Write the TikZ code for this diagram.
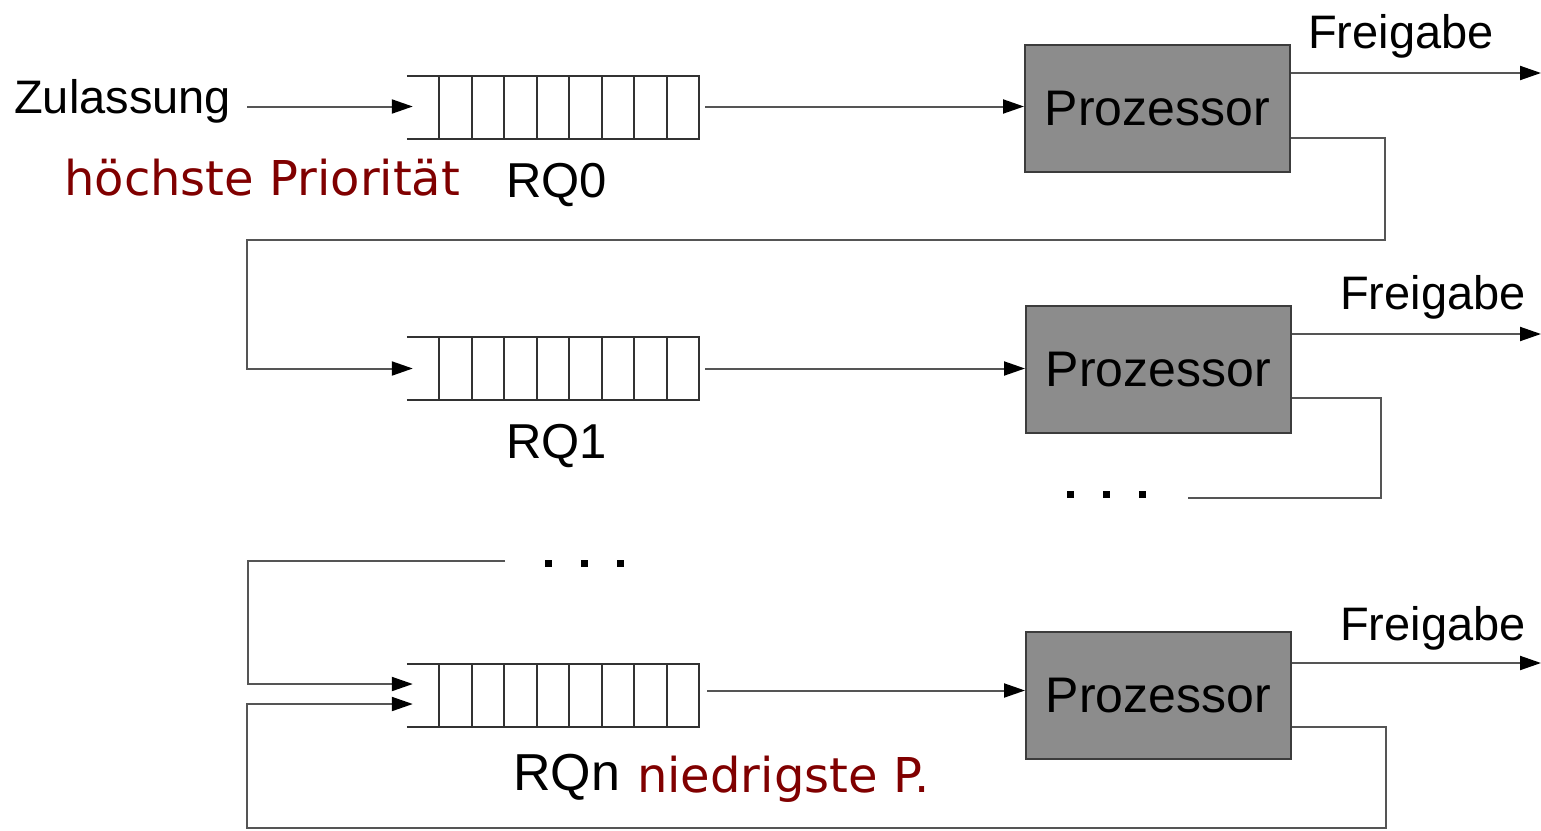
\documentclass[tikz,border=0pt]{standalone}
\usepackage{fontspec}
\setmainfont{Liberation Sans}
\newfontfamily\dvs{DejaVu Sans}
\usetikzlibrary{arrows.meta}
\definecolor{dred}{RGB}{128,0,0}
\definecolor{boxgray}{RGB}{140,140,140}
\definecolor{linegray}{RGB}{85,85,85}
\definecolor{qgray}{RGB}{50,50,50}
\newcommand\drawqueue[1]{%
  \draw[qline] (#1.north west) -- (#1.north east);
  \draw[qline] (#1.south west) -- (#1.south east);
  \foreach \i in {1,...,9}
    \draw[qline] ([xshift=\i*32.5pt]#1.north west) -- ([xshift=\i*32.5pt]#1.south west);
}
\begin{document}
\begin{tikzpicture}[x=1pt,y=-1pt,
  conn/.style={draw=linegray,line width=2pt},
  arr/.style={conn,-{Triangle[length=21pt,width=14pt,color=black]}},
  qline/.style={draw=qgray,line width=2pt},
  proc/.style={draw=linegray!70!black,line width=2pt,fill=boxgray,minimum width=265pt,minimum height=127pt,inner sep=0,font=\fontsize{50}{60}\selectfont},
  queuebox/.style={minimum width=293pt,minimum height=63pt,inner sep=0},
  lbl/.style={inner sep=0,anchor=base west,font=\fontsize{47}{56}\selectfont},
  rqlbl/.style={inner sep=0,anchor=base west,font=\fontsize{49}{58}\selectfont},
  prio/.style={inner sep=0,anchor=base west,text=dred,font=\dvs\fontsize{48}{56}\selectfont},
  dotsq/.style={fill=black,minimum size=7pt,inner sep=0}]
\useasboundingbox (0,0) rectangle (1541,830);

% queues
\node[queuebox] (q0) at (553.5,107.5) {};
\node[queuebox] (q1) at (553.5,368.5) {};
\node[queuebox] (qn) at (553.5,695.5) {};
\drawqueue{q0}
\drawqueue{q1}
\drawqueue{qn}

% processors
\node[proc] (p0) at (1157.5,108.5) {Prozessor};
\node[proc] (p1) at (1158.5,369.5) {Prozessor};
\node[proc] (pn) at (1158.5,695.5) {Prozessor};

% labels
\node[lbl] (zul) at (14,113) {Zulassung};
\node[prio] (hp) at (64,195) {höchste Priorität};
\node[rqlbl] (rq0) at (506,197) {RQ0};
\node[rqlbl] (rq1) at (506,458) {RQ1};
\node[inner sep=0,anchor=base west,font=\fontsize{52}{60}\selectfont] (rqn) at (513,790) {RQn};
\node[prio] (np) at (637,792) {niedrigste P.};
\node[lbl] (fg0) at (1308,48) {Freigabe};
\node[lbl] (fg1) at (1340,309) {Freigabe};
\node[lbl] (fgn) at (1340,640) {Freigabe};

% dots
\foreach \x [count=\k] in {1070,1106,1142} \node[dotsq] (da\k) at (\x,494) {};
\foreach \x [count=\k] in {548,584,620} \node[dotsq] (db\k) at (\x,563) {};

% coordinates
\coordinate (zs) at (247,106.5);
\coordinate (e0) at (1541,73);
\coordinate (e1) at (1541,334);
\coordinate (en) at (1541,663);
\coordinate (r0) at (1385,240);
\coordinate (l0) at (247,240);
\coordinate (r1) at (1381,498);
\coordinate (d1) at (1188,498);
\coordinate (s2) at (505,561);
\coordinate (l2) at (248,561);
\coordinate (bn) at (1386,828);
\coordinate (bl) at (247,828);

% connectors
\draw[arr,shorten >=-6pt] (zs) -- (zs -| q0.west);
\draw[arr,shorten <=5pt] ([yshift=1pt]q0.east) -- ([yshift=1pt]q0.east -| p0.west);
\draw[arr,shorten <=5pt] (q1.east) -- (q1.east -| p1.west);
\draw[arr,shorten <=7pt] ([yshift=5pt]qn.east) -- ([yshift=5pt]qn.east -| pn.west);

\draw[arr] ([yshift=35.5pt]p0.east) -- (e0);
\draw[arr] ([yshift=35.5pt]p1.east) -- (e1);
\draw[arr] ([yshift=32.5pt]pn.east) -- (en);

\draw[arr,shorten >=-6pt] ([yshift=-29.5pt]p0.east) -| (r0) -- (l0) |- (q1.west);
\draw[conn] ([yshift=-28.5pt]p1.east) -| (r1) -- (d1);
\draw[arr,shorten >=-6pt] (s2) -- (l2) |- ([yshift=11.5pt]qn.west);
\draw[arr,shorten >=-6pt] ([yshift=-31.5pt]pn.east) -| (bn) -- (bl) |- ([yshift=-8.5pt]qn.west);
\end{tikzpicture}
\end{document}
